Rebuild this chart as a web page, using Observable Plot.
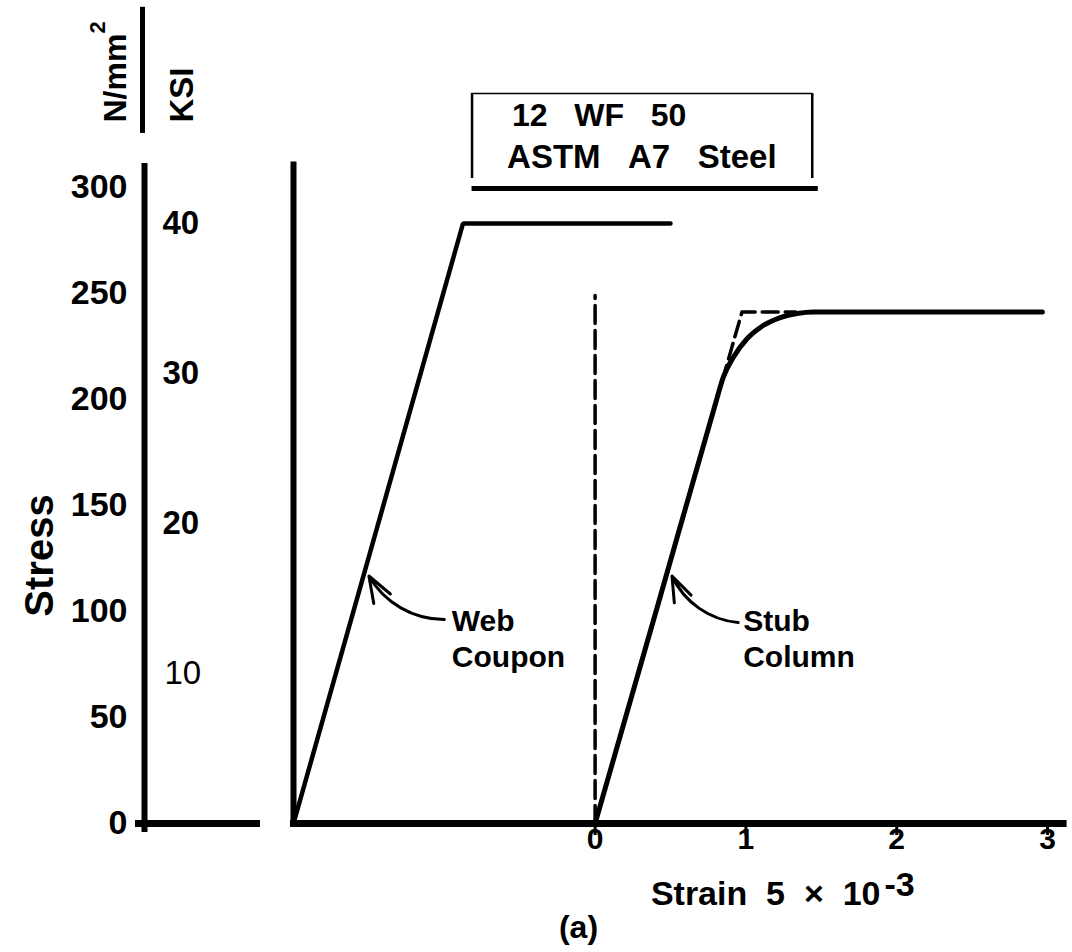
<!DOCTYPE html>
<html>
<head>
<meta charset="utf-8">
<script src="https://cdn.jsdelivr.net/npm/d3@7"></script>
<script src="https://cdn.jsdelivr.net/npm/@observablehq/plot@0.6"></script>
<style>
  html, body { margin: 0; padding: 0; background: #fff; }
  #figure { position: relative; width: 1072px; height: 952px; }
  #figure svg { position: absolute; left: 0; top: 0; }
</style>
</head>
<body>
<div id="figure"></div>
<script>
// Strain axis ticks (strain in units of 5×10⁻³) and the two stress scales
const strainTicks = [0, 1, 2, 3];
const ksiTicks = [10, 20, 30, 40];
const mpaTicks = [0, 50, 100, 150, 200, 250, 300];

// Web coupon: elastic line and yield plateau (drawn offset left of the strain origin)
const webStrain = [-2, -0.876, 0.5];
const webStress = [0, 40, 40];

// Stub column: measured curve with gradual yielding
const stubStrain = [0, 0.42, 0.80, 0.849, 0.916, 1.009, 1.115, 1.228, 1.34, 1.447, 2.966];
const stubStress = [0, 14.7, 28.05, 29.73, 31.07, 32.33, 33.2, 33.73, 34.0, 34.1, 34.1];

// Stub column: idealized elastic–plastic response (dashed)
const idealStrain = [0.843, 0.974, 1.33];
const idealStress = [29.5, 34.1, 34.1];

// Zero-strain reference line (dashed)
const zeroStrain = [0, 0];
const zeroStress = [0, 35.2];

// Curve labels with leader arrows
const curveNames = ["Web\nCoupon", "Stub\nColumn"];
const labelStrain = [-0.95, 0.982];
const labelStress = [12.4, 12.4];
const arrowFromStrain = [-1.0, 0.949];
const arrowFromStress = [13.6, 13.4];
const arrowToStrain = [-1.5, 0.51];
const arrowToStress = [16.5, 16.5];

// Specimen description
const titleLines = ["12\u00a0\u00a0\u00a0WF\u00a0\u00a0\u00a050", "ASTM\u00a0\u00a0\u00a0A7\u00a0\u00a0\u00a0Steel"];

const font = "'Liberation Sans', Arial, Helvetica, sans-serif";
const pts = (xs, ys) => xs.map((x, i) => ({strain: x, stress: ys[i]}));
const web = pts(webStrain, webStress);
const stub = pts(stubStrain, stubStress);
const ideal = pts(idealStrain, idealStress);
const zero = pts(zeroStrain, zeroStress);
const labels = curveNames.map((name, i) => ({
  name,
  lx: labelStrain[i], ly: labelStress[i],
  fx: arrowFromStrain[i], fy: arrowFromStress[i],
  tx: arrowToStrain[i], ty: arrowToStress[i]
}));

// Frame of the specimen box (strain / ksi units)
const box = {x1: -0.816, x2: 1.44, x3: 1.48, top: 48.67, sideBottom: 43.0, bottom: 42.33};

const bold = {fontWeight: "bold"};

const main = Plot.plot({
  width: 1072,
  height: 952,
  marginLeft: 293,
  marginRight: 25,
  marginTop: 223,
  marginBottom: 129,
  x: {domain: [-2, 3], axis: null},
  y: {domain: [0, 40], axis: null},
  style: {fontFamily: font, background: "white", color: "#000", overflow: "visible"},
  marks: [
    // stress axis and strain axis of the chart
    Plot.ruleX([-2], {y1: 0, y2: 44.1, strokeWidth: 6}),
    Plot.ruleY([0], {x1: -2.02, x2: 3.13, strokeWidth: 7}),
    Plot.ruleX(strainTicks, {y1: 0, y2: -0.8, strokeWidth: 3}),
    Plot.text(strainTicks, {x: d => d, frameAnchor: "bottom", dy: 25, text: String, fontSize: 30, ...bold}),
    Plot.text(["Strain\u00a0\u00a05\u00a0\u00a0×\u00a0\u00a010"], {frameAnchor: "bottom-right", dx: -167, dy: 81, textAnchor: "end", fontSize: 34, ...bold}),
    Plot.text(["-3"], {frameAnchor: "bottom-right", dx: -163, dy: 72, textAnchor: "start", fontSize: 34, ...bold}),
    Plot.text(["(a)"], {frameAnchor: "bottom", dx: -92, dy: 114, textAnchor: "middle", fontSize: 32, ...bold}),

    // KSI scale labels
    Plot.text(ksiTicks.filter(d => d !== 10), {y: d => d, frameAnchor: "left", dx: -131, textAnchor: "start", text: String, fontSize: 33, ...bold}),
    Plot.text(ksiTicks.filter(d => d === 10), {y: d => d, frameAnchor: "left", dx: -129, textAnchor: "start", text: String, fontSize: 33, fontWeight: "normal"}),

    // curves
    Plot.line(zero, {x: "strain", y: "stress", strokeWidth: 3.5, strokeDasharray: "18,7"}),
    Plot.line(ideal, {x: "strain", y: "stress", strokeWidth: 3.5, strokeDasharray: "16,7"}),
    Plot.line(web, {x: "strain", y: "stress", strokeWidth: 4.5, strokeLinejoin: "miter"}),
    Plot.line(stub, {x: "strain", y: "stress", strokeWidth: 5, curve: "monotone-x"}),

    // curve labels
    Plot.arrow(labels, {x1: "fx", y1: "fy", x2: "tx", y2: "ty", bend: 30, headLength: 14, headAngle: 40, strokeWidth: 3}),
    Plot.text(labels, {x: "lx", y: "ly", text: "name", textAnchor: "start", lineHeight: 1.2, fontSize: 30, ...bold}),

    // specimen box
    Plot.ruleY([box.top], {x1: box.x1, x2: box.x2, strokeWidth: 1.5}),
    Plot.ruleX([box.x1, box.x2], {y1: box.sideBottom, y2: box.top, strokeWidth: 2.5}),
    Plot.ruleY([box.bottom], {x1: box.x1, x2: box.x3, strokeWidth: 5}),
    Plot.text([titleLines[0]], {x: box.x1, y: box.top, dx: 40, dy: 22, textAnchor: "start", fontSize: 32, ...bold}),
    Plot.text([titleLines[1]], {x: box.x1, y: box.top, dx: 35, dy: 64, textAnchor: "start", fontSize: 33, ...bold})
  ]
});

// N/mm² scale, drawn on its own axis to the left of the chart
const side = Plot.plot({
  width: 1072,
  height: 952,
  marginLeft: 144,
  marginRight: 812,
  marginTop: 187,
  marginBottom: 129,
  x: {domain: [0, 1], axis: null},
  y: {domain: [0, 300], axis: null},
  style: {fontFamily: font, background: "none", color: "#000", overflow: "visible"},
  marks: [
    Plot.ruleX([0], {insetTop: -24, insetBottom: -9, strokeWidth: 6}),
    Plot.ruleY([0], {insetLeft: -9, strokeWidth: 7}),
    Plot.text(mpaTicks, {x: 0, y: d => d, dx: -17, textAnchor: "end", text: String, fontSize: 34, ...bold}),

    // unit header
    Plot.ruleX([0], {y1: 325.5, y2: 385, dx: -2, strokeWidth: 5}),
    Plot.text(["N/mm"], {frameAnchor: "top-left", dx: -41, dy: -65, rotate: -90, textAnchor: "start", fontSize: 32, ...bold}),
    Plot.text(["2"], {frameAnchor: "top-left", dx: -55, dy: -154, rotate: -90, textAnchor: "start", fontSize: 22, ...bold}),
    Plot.text(["KSI"], {frameAnchor: "top-left", dx: 25, dy: -65, rotate: -90, textAnchor: "start", fontSize: 33, ...bold}),

    Plot.text(["Stress"], {frameAnchor: "left", dx: -104, dy: 50, rotate: -90, textAnchor: "middle", fontSize: 40, ...bold})
  ]
});

const fig = document.getElementById("figure");
fig.appendChild(main);
fig.appendChild(side);
</script>
</body>
</html>
